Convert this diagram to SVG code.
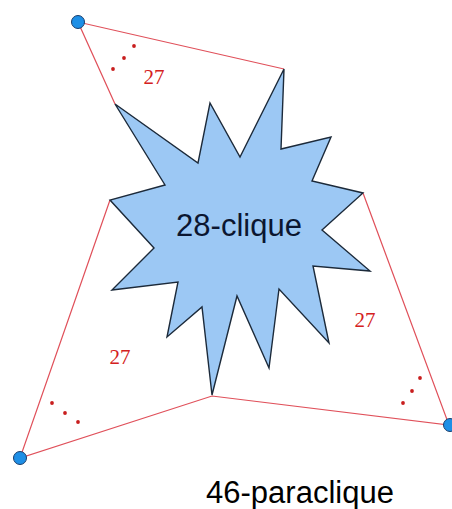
<svg xmlns="http://www.w3.org/2000/svg" width="452" height="509" viewBox="0 0 452 509">
<style>
.edge{stroke:#e0505a;stroke-width:1.2;fill:none}
.dot{fill:#1e8fe6;stroke:#1a3d6b;stroke-width:1}
.lbl{font-family:"Liberation Serif",serif;font-size:21px;fill:#d42020}
.rd{fill:#c81e1e}
.big{font-family:"Liberation Sans",Arial,sans-serif;font-size:31px;fill:#000}
</style>
<rect width="452" height="509" fill="#fff"/>
<g id="connectors">
<polyline class="edge" points="115,104 78,22 284,69"/>
<polyline class="edge" points="110,200 20,458 212,396 449,425 363,193"/>
</g>
<g id="clique">
<polygon points="115,104 198,163 210,103 240,157 284,69 281,149 331,137 312,181 363,193 322,230 370,271 313,266 329,343 279,289 269,368 237,296 212,395 202,307 167,337 178,282 112,290 154,248 110,200 165,185" fill="#9cc8f4" stroke="#1c2a3a" stroke-width="1.4" stroke-linejoin="miter"/>
<text class="big" x="239" y="236" text-anchor="middle" fill="#0b1630" style="fill:#0b1630">28-clique</text>
</g>
<g id="node-tl"><circle class="dot" cx="78" cy="22" r="6.5"/></g>
<g id="node-bl"><circle class="dot" cx="20" cy="458" r="6.5"/></g>
<g id="node-br"><circle class="dot" cx="450" cy="425" r="6.5"/></g>
<g id="labels">
<text class="lbl" x="154" y="84" text-anchor="middle">27</text>
<text class="lbl" x="365" y="327" text-anchor="middle">27</text>
<text class="lbl" x="120" y="364" text-anchor="middle">27</text>
<circle class="rd" cx="113" cy="69" r="1.9"/><circle class="rd" cx="124" cy="58" r="1.9"/><circle class="rd" cx="134" cy="46" r="1.9"/>
<circle class="rd" cx="52" cy="403" r="1.9"/><circle class="rd" cx="65" cy="413" r="1.9"/><circle class="rd" cx="78" cy="422" r="1.9"/>
<circle class="rd" cx="403" cy="403" r="1.9"/><circle class="rd" cx="412" cy="391" r="1.9"/><circle class="rd" cx="420" cy="378" r="1.9"/>
</g>
<text id="caption" class="big" x="300" y="503" text-anchor="middle">46-paraclique</text>
</svg>
